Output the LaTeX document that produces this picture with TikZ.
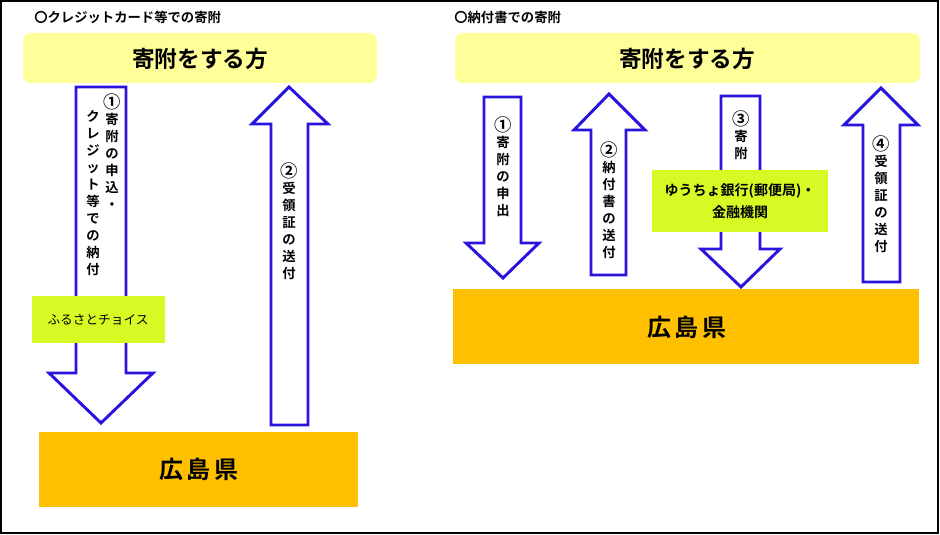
\documentclass[tikz,border=0pt]{standalone}
\usepackage{fontspec}
\newfontfamily\cjk{Noto Sans CJK JP}
\newfontfamily\cjkb{Noto Sans CJK JP Bold}
\definecolor{boxyellow}{RGB}{255,255,153}
\definecolor{boxgreen}{RGB}{216,250,36}
\definecolor{boxorange}{RGB}{255,192,0}
\definecolor{arrowblue}{RGB}{40,20,220}
\newcommand{\circnum}[1]{\raisebox{-0.5pt}{\fontsize{13pt}{12.75pt}\selectfont #1}}
\tikzset{
  title/.style={font=\cjkb\fontsize{10pt}{12pt}\selectfont, anchor=west, inner sep=0},
  donor/.style={fill=boxyellow, rounded corners=6pt, draw=none},
  donortext/.style={font=\cjkb\fontsize{17pt}{20pt}\selectfont, inner sep=0},
  pref/.style={fill=boxorange, draw=none},
  preftext/.style={font=\cjkb\fontsize{18pt}{20pt}\selectfont, inner sep=0},
  mid/.style={fill=boxgreen, draw=none},
  blockarrow/.style={draw=arrowblue, line width=2.2pt, fill=white, line join=miter},
  vcol/.style={font=\cjkb\fontsize{10pt}{12.75pt}\selectfont, align=center, inner sep=0, anchor=north},
}
\begin{document}
\begin{tikzpicture}[x=0.75pt,y=-0.75pt]
\useasboundingbox (0,0) rectangle (940,535);
\draw[line width=1.1pt] (1,1) rectangle (938,533);

% ---------- left: credit card ----------
\node[title] (t1) at (34,17) {〇クレジットカード等での寄附};
\fill[donor] (23,33) rectangle (377,83);
\node[donortext] (d1) at (200,59) {寄附をする方};

\draw[blockarrow] (76,87) -- (126,87) -- (126,373) -- (153,373) -- (101,423) -- (49,373) -- (76,373) -- cycle;
\draw[blockarrow] (289,87) -- (328,124) -- (308,124) -- (308,425) -- (271,425) -- (271,124) -- (252,124) -- cycle;

\node[vcol] (l1a) at (112,93.5) {\circnum{①}\\寄\\附\\の\\申\\込\\・};
\node[vcol] (l1b) at (93,110.5) {ク\\レ\\ジ\\ッ\\ト\\等\\で\\の\\納\\付};
\node[vcol] (l2) at (289,162.5) {\circnum{②}\\受\\領\\証\\の\\送\\付};

\fill[mid] (32,296) rectangle (165,343);
\node[font=\cjk\fontsize{9.5pt}{11pt}\selectfont, inner sep=0] (fc) at (98,320) {ふるさとチョイス};

\fill[pref] (39,432) rectangle (358,507);
\node[preftext] (p1) at (199,469) {広\hspace{3pt}島\hspace{3pt}県};

% ---------- right: payment slip ----------
\node[title] (t2) at (454,17) {〇納付書での寄附};
\fill[donor] (455,33) rectangle (920,83);
\node[donortext] (d2) at (687,59) {寄附をする方};

\draw[blockarrow] (484,97) -- (521,97) -- (521,243) -- (539,243) -- (503,278) -- (466,243) -- (484,243) -- cycle;
\draw[blockarrow] (609,94) -- (645,130) -- (626,130) -- (626,275) -- (591,275) -- (591,130) -- (574,130) -- cycle;
\draw[blockarrow] (721,96) -- (760,96) -- (760,249) -- (780,249) -- (741,287) -- (701,249) -- (721,249) -- cycle;
\draw[blockarrow] (881,88) -- (918,125) -- (900,125) -- (900,282) -- (863,282) -- (863,125) -- (844,125) -- cycle;

\node[vcol] (r1) at (503,116.5) {\circnum{①}\\寄\\附\\の\\申\\出};
\node[vcol] (r2) at (609,141.5) {\circnum{②}\\納\\付\\書\\の\\送\\付};
\node[vcol] (r3) at (741,110.5) {\circnum{③}\\寄\\附};
\node[vcol] (r4) at (881,135.5) {\circnum{④}\\受\\領\\証\\の\\送\\付};

\fill[mid] (652,170) rectangle (828,232);
\node[font=\cjkb\fontsize{10.5pt}{16.5pt}\selectfont, align=center, inner sep=0] (bank) at (740,201) {ゆうちょ銀行(郵便局)・\\金融機関};

\fill[pref] (453,289) rectangle (919,364);
\node[preftext] (p2) at (687,327) {広\hspace{3pt}島\hspace{3pt}県};
\end{tikzpicture}
\end{document}
